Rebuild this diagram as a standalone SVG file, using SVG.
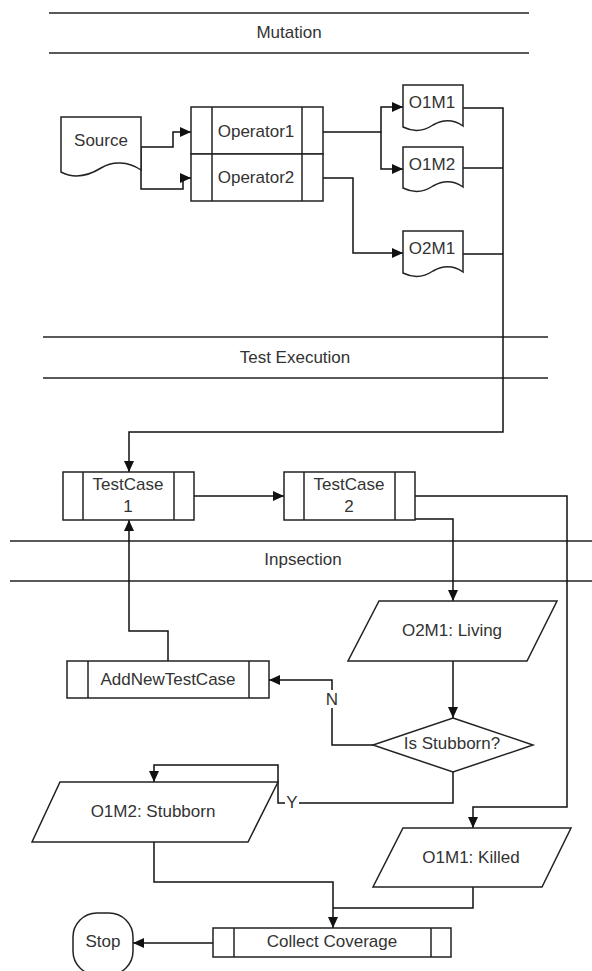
<svg xmlns="http://www.w3.org/2000/svg" width="592" height="971" viewBox="0 0 592 971">
<defs>
<marker id="arr" markerUnits="userSpaceOnUse" markerWidth="12" markerHeight="10" refX="11" refY="5" orient="auto">
<path d="M0,0 L11,5 L0,10 Z" fill="#111"/>
</marker>
</defs>
<style>
.shape{fill:#fff;stroke:#222;stroke-width:1.5}
.lane{stroke:#222;stroke-width:1.5;fill:none}
.conn{fill:none;stroke:#111;stroke-width:1.5}
.arrow{marker-end:url(#arr)}
text{font-family:"Liberation Sans",Arial,sans-serif;font-size:17px;fill:#333;text-anchor:middle}
.lbl{fill:#fff;stroke:none}
</style>
<rect width="592" height="971" fill="#fff"/>

<g id="lane-mutation">
<line class="lane" x1="49" y1="13" x2="529" y2="13"/>
<line class="lane" x1="49" y1="53" x2="529" y2="53"/>
<text x="289" y="38">Mutation</text>
</g>
<g id="lane-test-execution">
<line class="lane" x1="43" y1="337" x2="548" y2="337"/>
<line class="lane" x1="43" y1="378" x2="548" y2="378"/>
<text x="295" y="363">Test Execution</text>
</g>
<g id="lane-inspection">
<line class="lane" x1="10" y1="541" x2="592" y2="541"/>
<line class="lane" x1="10" y1="581" x2="592" y2="581"/>
<text x="303" y="565">Inpsection</text>
</g>

<g id="connectors">
<path class="conn arrow" d="M141,147 H173 V132 H191"/>
<path class="conn arrow" d="M141,147 V189 H183 V178 H191"/>
<path class="conn arrow" d="M323,132 H381 V107 H403"/>
<path class="conn arrow" d="M381,132 V169 H403"/>
<path class="conn arrow" d="M323,178 H353 V253 H403"/>
<path class="conn arrow" d="M463,108 H503 V432 H129 V472"/>
<path class="conn" d="M463,168 H503"/>
<path class="conn" d="M463,254 H503"/>
<path class="conn arrow" d="M194,496 H284"/>
<path class="conn arrow" d="M415,496 H567 V807 H473 V828"/>
<path class="conn arrow" d="M415,519 H453 V601"/>
<path class="conn arrow" d="M453,661 V718"/>
<path class="conn arrow" d="M373,745 H332 V680 H269"/>
<path class="conn arrow" d="M168,661 V631 H129 V520"/>
<path class="conn arrow" d="M453,772 V803 H278 V765 H154 V782"/>
<path class="conn arrow" d="M154,842 V882 H333 V928"/>
<path class="conn" d="M473,887 V908 H333"/>
<path class="conn arrow" d="M213,943 H133"/>
<rect class="lbl" x="325" y="690" width="14" height="18"/>
<text x="332" y="705">N</text>
<rect class="lbl" x="285" y="794" width="14" height="16"/>
<text x="292" y="808">Y</text>
</g>

<g id="source">
<path class="shape" d="M61,117 H141 V170 C128,161 112,161 101,168 C88,176 74,179 61,172 Z"/>
<text x="101" y="146">Source</text>
</g>
<g id="operator1">
<rect class="shape" x="191" y="107" width="132" height="47"/>
<line class="shape" x1="212" y1="107" x2="212" y2="154"/>
<line class="shape" x1="302" y1="107" x2="302" y2="154"/>
<text x="256" y="137">Operator1</text>
</g>
<g id="operator2">
<rect class="shape" x="191" y="154" width="132" height="47"/>
<line class="shape" x1="212" y1="154" x2="212" y2="201"/>
<line class="shape" x1="302" y1="154" x2="302" y2="201"/>
<text x="256" y="183">Operator2</text>
</g>
<g id="o1m1">
<path class="shape" d="M403,85 H463 V126 C453,119 442,120 433,125 C424,131 413,132 403,127 Z"/>
<text x="432" y="108">O1M1</text>
</g>
<g id="o1m2">
<path class="shape" d="M403,147 H463 V187 C453,180 442,181 433,186 C424,192 413,193 403,188 Z"/>
<text x="432" y="170">O1M2</text>
</g>
<g id="o2m1">
<path class="shape" d="M403,231 H463 V272 C453,265 442,266 433,271 C424,277 413,278 403,273 Z"/>
<text x="432" y="254">O2M1</text>
</g>

<g id="testcase1">
<rect class="shape" x="63" y="472" width="131" height="48"/>
<line class="shape" x1="83" y1="472" x2="83" y2="520"/>
<line class="shape" x1="174" y1="472" x2="174" y2="520"/>
<text x="128" y="490">TestCase</text>
<text x="128" y="512">1</text>
</g>
<g id="testcase2">
<rect class="shape" x="284" y="472" width="131" height="48"/>
<line class="shape" x1="304" y1="472" x2="304" y2="520"/>
<line class="shape" x1="395" y1="472" x2="395" y2="520"/>
<text x="349" y="490">TestCase</text>
<text x="349" y="512">2</text>
</g>

<g id="o2m1-living">
<polygon class="shape" points="379,601 557,601 527,661 348,661"/>
<text x="452" y="636">O2M1: Living</text>
</g>
<g id="is-stubborn">
<polygon class="shape" points="453,718 533,745 453,772 373,745"/>
<text x="452" y="749">Is Stubborn?</text>
</g>
<g id="addnewtestcase">
<rect class="shape" x="67" y="661" width="202" height="37"/>
<line class="shape" x1="88" y1="661" x2="88" y2="698"/>
<line class="shape" x1="249" y1="661" x2="249" y2="698"/>
<text x="168" y="685">AddNewTestCase</text>
</g>
<g id="o1m2-stubborn">
<polygon class="shape" points="60,782 278,782 248,842 32,842"/>
<text x="153" y="817">O1M2: Stubborn</text>
</g>
<g id="o1m1-killed">
<polygon class="shape" points="403,828 571,828 542,887 373,887"/>
<text x="471" y="863">O1M1: Killed</text>
</g>
<g id="collect-coverage">
<rect class="shape" x="213" y="928" width="238" height="29"/>
<line class="shape" x1="234" y1="928" x2="234" y2="957"/>
<line class="shape" x1="431" y1="928" x2="431" y2="957"/>
<text x="332" y="947">Collect Coverage</text>
</g>
<g id="stop">
<rect class="shape" x="73" y="913" width="60" height="62" rx="24" ry="24"/>
<text x="103" y="947">Stop</text>
</g>
</svg>
